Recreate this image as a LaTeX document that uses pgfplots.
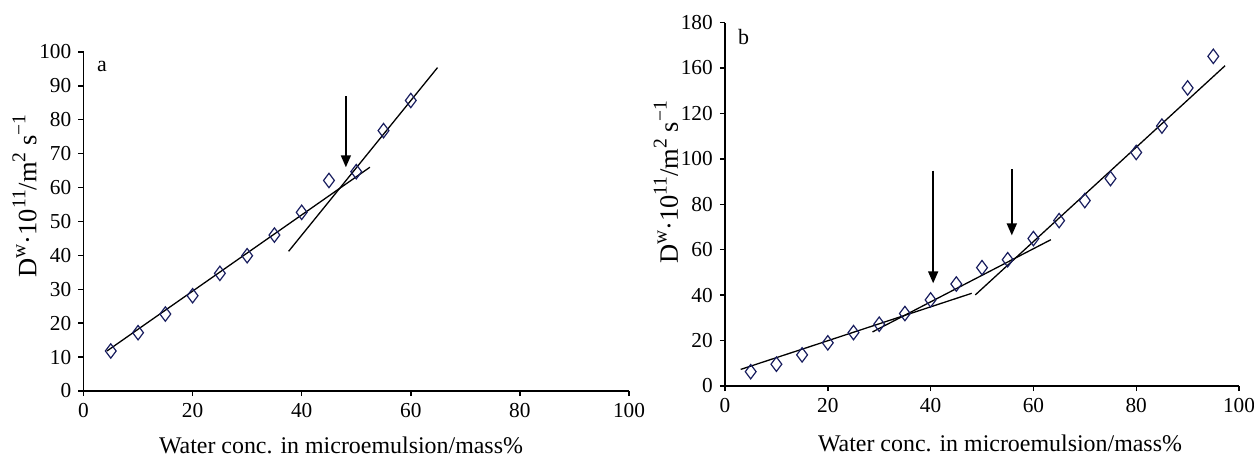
\documentclass[border=0pt]{standalone}
\usepackage{fontspec}
\setmainfont{Liberation Serif}
\usepackage{pgfplots}
\pgfplotsset{compat=1.18}
\usetikzlibrary{arrows.meta}
\definecolor{mk}{RGB}{25,30,95}
\newcommand\sps[1]{\raisebox{0.42em}{\fontsize{9.8}{10}\selectfont #1}}
\newcommand\ylab{D\sps{w}·10\sps{11}/m\sps{2} s\sps{−1}}
\pgfplotsset{
  base/.style={
    scale only axis, clip=false,
    axis lines*=left,
    axis line style={line width=0.8bp, black},
    tick align=outside, major tick length=2.6bp,
    every tick/.style={black, line width=0.7bp},
    xtick pos=bottom, ytick pos=left,
    /pgf/number format/assume math mode=true,
    tick label style={font=\fontsize{10.7}{12}\selectfont},
    xlabel style={font=\fontsize{12}{14}\selectfont},
    ylabel style={font=\fontsize{13.3}{15}\selectfont},
    xmin=0, xmax=100, ymin=0,
    xtick={0,20,...,100},
  },
  pts/.style={only marks, mark=diamond, mark size=3.6bp, color=mk, line width=0.6bp, mark options={fill=white}},
  fit/.style={black, line width=0.65bp, no marks},
  arr/.style={black, line width=0.85bp, no marks, -{Triangle[length=6bp,width=5bp]}},
}
\begin{document}
\begin{tikzpicture}
% ---------- panel a ----------
\begin{axis}[base,
  at={(41.75bp,32.5bp)}, anchor=south west,
  width=272.75bp, height=169.5bp,
  ymax=100, ytick={0,10,...,100},
  xlabel={Water conc. in microemulsion/mass\%},
  xlabel style={at={(axis description cs:0.472,0)}, anchor=center, yshift=-27bp},
  ylabel={\ylab},
  ylabel style={at={(axis description cs:-0.108,0.575)}, anchor=center},
]
\addplot[fit] coordinates {(4.3,11.8) (52.5,66)};
\addplot[fit] coordinates {(37.6,41.2) (64.9,95.4)};
\addplot[pts] coordinates {
(5,11.8) (10,17.2) (15,22.7) (20,28.1) (25,34.7) (30,39.9)
(35,46) (40,52.7) (45,62.1) (50,64.7) (55,76.8) (60,85.7)};
\addplot[arr] coordinates {(48.1,87) (48.1,66)};
\node[font=\fontsize{11}{12}\selectfont] at (axis cs:3.4,95.6) {a};
\end{axis}
% ---------- panel b ----------
\begin{axis}[base,
  at={(362.5bp,35bp)}, anchor=south west,
  width=257bp, height=181.75bp,
  ymax=160, ytick={0,20,...,160},
  yticklabels={0,20,40,60,80,100,120,160,180},
  xlabel={Water conc. in microemulsion/mass\%},
  xlabel style={at={(axis description cs:0.535,0)}, anchor=center, yshift=-28.5bp},
  ylabel={\ylab},
  ylabel style={at={(axis description cs:-0.115,0.56)}, anchor=center},
]
\addplot[fit] coordinates {(3.05,7.3) (48,40.8)};
\addplot[fit] coordinates {(28.7,23.8) (63.4,64.4)};
\addplot[fit] coordinates {(48.7,40.1) (97.3,141)};
\addplot[pts] coordinates {
(5,6.3) (10,9.6) (15,13.7) (20,19) (25,23.5) (30,27.2) (35,31.9)
(40,37.9) (45,44.9) (50,52.1) (55,55.6) (60,64.9) (65,72.8) (70,81.6)
(75,91.3) (80,102.8) (85,114.4) (90,131.2) (95,145.1)};
\addplot[arr] coordinates {(40.5,94.8) (40.5,45.2)};
\addplot[arr] coordinates {(55.8,95.5) (55.8,66.3)};
\node[font=\fontsize{11}{12}\selectfont] at (axis cs:3.6,153.8) {b};
\end{axis}
\pgfresetboundingbox
\path (0,0) rectangle (627bp,228bp);
\end{tikzpicture}
\end{document}
